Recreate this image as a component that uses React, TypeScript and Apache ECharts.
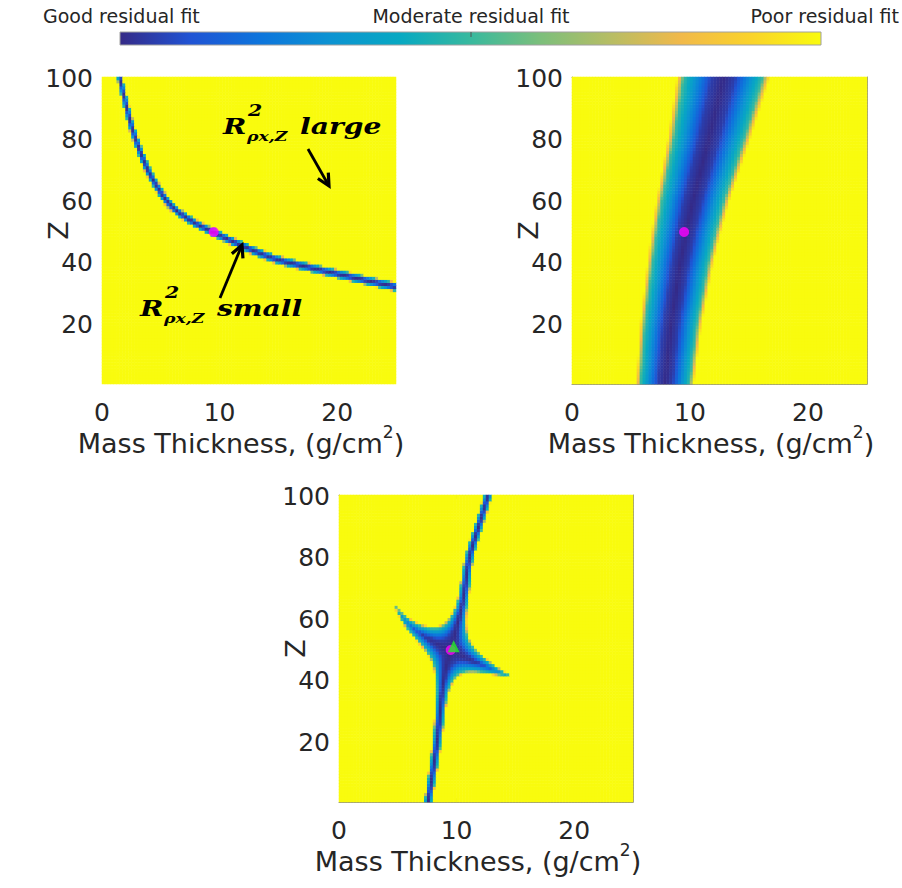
import React, { useEffect, useRef } from "react";
import * as echarts from "echarts";

// ---------------- data ----------------
const MASS_CELLS = Array.from({ length: 100 }, (_, i) => +(0.125 + 0.25 * i).toFixed(3));
const Z_CELLS = Array.from({ length: 100 }, (_, i) => i + 1);

const X_TICKS = [0, 10, 20];
const Z_TICKS = [20, 40, 60, 80, 100];

// valley of small residual, panel 1 (also the arms in panel 3)
const VALLEY1_X = [1.55, 2.5, 3.4, 4.3, 5.8, 7.7, 9.5, 12.0, 14.6, 16.8, 21.0, 25.0];
const VALLEY1_Z = [100, 85, 75, 67.5, 59, 53.5, 50, 45.5, 41.5, 39.3, 35.6, 32.2];
// half width of that valley (px) versus Z
const VALLEY1_HALF_Z = [32, 50, 100];
const VALLEY1_HALF = [4.8, 4.2, 3.0];

// valley of panel 2: centre and half width (mass thickness) versus Z
const VALLEY2_Z = [0.5, 20, 40, 50, 60, 80, 100.5];
const VALLEY2_X = [7.9, 8.4, 9.2, 9.7, 10.25, 11.6, 12.85];
const VALLEY2_HALF = [2.45, 2.6, 2.8, 2.95, 3.1, 3.5, 3.95];

// thin valley of panel 3
const VALLEY3_X = [7.6, 8.35, 8.9, 9.5, 10.5, 11.1, 11.87, 12.7];
const VALLEY3_Z = [0.5, 20, 40, 50, 65, 80, 90, 100.5];

// residual profile across a valley (normalised distance -> colour value)
const PROFILE_T = [0, 0.25, 0.55, 0.85, 0.95, 1];
const PROFILE_V = [0, 0.05, 0.27, 0.5, 0.85, 1];

const TRUE_POINT = [9.5, 50];
const FIT_POINT = [9.75, 51.2];

const COLORBAR_LABELS = ["Good residual fit", "Moderate residual fit", "Poor residual fit"];
const X_TITLE = "Mass Thickness, (g/cm{sup|2})";
const Y_TITLE = "Z";

const PARULA = [
  "#352a87", "#2053d4", "#0d75dc", "#0c93d2", "#07a9c2", "#38b99e",
  "#7cbf7b", "#b7bd64", "#f1b94a", "#fad32a", "#f9fb0e",
];

// ---------------- helpers ----------------
const SX = 294 / 25; // px per mass-thickness unit
const SZ = 307 / 100; // px per Z unit

function interp(xs: number[], ys: number[], x: number) {
  if (x <= xs[0]) return ys[0];
  for (let i = 1; i < xs.length; i++) {
    if (x <= xs[i]) {
      const f = (x - xs[i - 1]) / (xs[i] - xs[i - 1]);
      return ys[i - 1] + f * (ys[i] - ys[i - 1]);
    }
  }
  return ys[ys.length - 1];
}

function profile(t: number) {
  if (t >= 1) return 1;
  return interp(PROFILE_T, PROFILE_V, t);
}

// Catmull-Rom smoothing of a read polyline (in px space)
function smoothPx(xs: number[], zs: number[], n = 10) {
  const P = xs.map((x, i) => [x * SX, zs[i] * SZ]);
  const out: number[][] = [];
  for (let i = 0; i < P.length - 1; i++) {
    const p0 = P[Math.max(0, i - 1)], p1 = P[i], p2 = P[i + 1], p3 = P[Math.min(P.length - 1, i + 2)];
    for (let k = 0; k < n; k++) {
      const t = k / n, t2 = t * t, t3 = t2 * t;
      const f = (a: number, b: number, c: number, d: number) =>
        0.5 * (2 * b + (-a + c) * t + (2 * a - 5 * b + 4 * c - d) * t2 + (-a + 3 * b - 3 * c + d) * t3);
      out.push([f(p0[0], p1[0], p2[0], p3[0]), f(p0[1], p1[1], p2[1], p3[1])]);
    }
  }
  out.push(P[P.length - 1]);
  return out;
}

const PATH1 = smoothPx(VALLEY1_X, VALLEY1_Z);
const PATH3 = smoothPx(VALLEY3_X, VALLEY3_Z);

function pathDist(x: number, z: number, P: number[][]) {
  const px = x * SX, pz = z * SZ;
  let best = Infinity;
  for (let i = 1; i < P.length; i++) {
    const ax = P[i - 1][0], az = P[i - 1][1];
    const dx = P[i][0] - ax, dz = P[i][1] - az;
    const L = dx * dx + dz * dz || 1e-9;
    let t = ((px - ax) * dx + (pz - az) * dz) / L;
    t = Math.max(0, Math.min(1, t));
    const qx = ax + t * dx - px, qz = az + t * dz - pz;
    const d = Math.sqrt(qx * qx + qz * qz);
    if (d < best) best = d;
  }
  return best;
}

function field(fn: (x: number, z: number) => number) {
  const out: number[][] = [];
  for (let j = 0; j < Z_CELLS.length; j++) {
    for (let i = 0; i < MASS_CELLS.length; i++) {
      out.push([i, j, +fn(MASS_CELLS[i], Z_CELLS[j]).toFixed(4)]);
    }
  }
  return out;
}

const field1 = field((x, z) => profile(pathDist(x, z, PATH1) / interp(VALLEY1_HALF_Z, VALLEY1_HALF, z)));
const field2 = field((x, z) => {
  const c = interp(VALLEY2_Z, VALLEY2_X, z);
  const h = interp(VALLEY2_Z, VALLEY2_HALF, z);
  return profile(Math.abs(x - c) / h);
});
const field3 = field((x, z) => {
  const a = pathDist(x, z, PATH3) + 0.01; // px from the thin valley
  const b = pathDist(x, z, PATH1) + 0.01; // px from the panel-1 valley
  const qLine = a / (3 + 180 / (b + 15));
  const qArm = b / (4 + 250 / a) + Math.pow(a / 70, 2);
  return profile(Math.min(qLine, qArm));
});

// ---------------- layout ----------------
const GRIDS = [
  { left: 102, top: 77, width: 294, height: 307 },
  { left: 572, top: 77, width: 295, height: 307 },
  { left: 339, top: 495, width: 294, height: 307 },
];
const FONT = "DejaVu Sans";
const INK = "#262626";
const BORDER = "#8f8f8f";

function arrow(tail: number[], tip: number[]) {
  const dx = tip[0] - tail[0], dy = tip[1] - tail[1];
  const L = Math.sqrt(dx * dx + dy * dy);
  const ux = dx / L, uy = dy / L;
  const nx = -uy, ny = ux;
  const hl = 12, hw = 6;
  const p1 = [tip[0] - hl * ux + hw * nx, tip[1] - hl * uy + hw * ny];
  const p2 = [tip[0] - hl * ux - hw * nx, tip[1] - hl * uy - hw * ny];
  return [
    { type: "line", shape: { x1: tail[0], y1: tail[1], x2: tip[0] - 2 * ux, y2: tip[1] - 2 * uy }, style: { stroke: "#000", lineWidth: 2.8 }, z: 100 },
    { type: "polyline", shape: { points: [p1, tip, p2] }, style: { stroke: "#000", lineWidth: 3.2, fill: null, lineJoin: "miter" }, z: 100 },
  ];
}

function annotation(x: number, baseline: number, word: string) {
  const S = 1.28;
  const base = { fill: "#000", fontFamily: "DejaVu Serif", fontWeight: "bold", fontStyle: "italic", verticalAlign: "middle", align: "left" };
  return [
    { type: "text", x, y: baseline - 7.3, scaleX: S, z: 100, style: { ...base, text: "R", fontSize: 22 } },
    { type: "text", x: x + 25, y: baseline - 23, scaleX: S, z: 100, style: { ...base, text: "2", fontSize: 16 } },
    { type: "text", x: x + 24, y: baseline + 3, scaleX: S, z: 100, style: { ...base, text: "ρx,Z", fontSize: 13.5 } },
    { type: "text", x: x + 77, y: baseline - 7.3, scaleX: S, z: 100, style: { ...base, text: word, fontSize: 22 } },
  ];
}

function buildOption() {
  const xAxis: any[] = [];
  const yAxis: any[] = [];
  GRIDS.forEach((_, i) => {
    xAxis.push({ type: "category", gridIndex: i, data: MASS_CELLS, show: false, position: "top" });
    yAxis.push({ type: "category", gridIndex: i, data: Z_CELLS, show: false, position: "right" });
  });
  GRIDS.forEach((_, i) => {
    const boxed = i > 0;
    xAxis.push({
      type: "value", gridIndex: i, min: 0, max: 25, interval: 10, position: "bottom",
      axisLine: { show: boxed, onZero: false, lineStyle: { color: BORDER, width: 1 } },
      axisTick: { show: boxed, inside: true, length: 4, lineStyle: { color: BORDER } },
      axisLabel: { fontFamily: FONT, fontSize: 25, color: INK, margin: 16, formatter: (v: number) => (X_TICKS.includes(v) ? String(v) : "") },
      splitLine: { show: false },
    });
    yAxis.push({
      type: "value", gridIndex: i, min: 0.5, max: 100.5, splitNumber: 5, position: "left",
      axisLine: { show: boxed, onZero: false, lineStyle: { color: BORDER, width: 1 } },
      axisTick: { show: boxed, inside: true, length: 4, lineStyle: { color: BORDER } },
      axisLabel: { fontFamily: FONT, fontSize: 25, color: INK, margin: 9, formatter: (v: number) => (Z_TICKS.includes(v) ? String(v) : "") },
      splitLine: { show: false },
    });
  });
  [1, 2].forEach((i) => {
    xAxis.push({
      type: "value", gridIndex: i, min: 0, max: 25, interval: 10, position: "top",
      axisLine: { show: true, onZero: false, lineStyle: { color: BORDER, width: 1 } },
      axisTick: { show: true, inside: true, length: 4, lineStyle: { color: BORDER } },
      axisLabel: { show: false }, splitLine: { show: false },
    });
    yAxis.push({
      type: "value", gridIndex: i, min: 0.5, max: 100.5, splitNumber: 5, position: "right",
      axisLine: { show: true, onZero: false, lineStyle: { color: BORDER, width: 1 } },
      axisTick: { show: true, inside: true, length: 4, lineStyle: { color: BORDER } },
      axisLabel: { show: false }, splitLine: { show: false },
    });
  });

  const fields = [field1, field2, field3];
  const series: any[] = fields.map((data, i) => ({
    type: "heatmap", xAxisIndex: i, yAxisIndex: i, data, progressive: 0, silent: true,
    itemStyle: { borderWidth: 0 }, emphasis: { disabled: true },
  }));
  GRIDS.forEach((_, i) => {
    series.push({
      type: "scatter", xAxisIndex: 3 + i, yAxisIndex: 3 + i, data: [TRUE_POINT], symbol: "circle",
      symbolSize: 10, itemStyle: { color: "#ff00ff" }, z: 5, silent: true,
    });
  });
  series.push({
    type: "scatter", xAxisIndex: 5, yAxisIndex: 5, data: [FIT_POINT], symbol: "triangle",
    symbolSize: 12, itemStyle: { color: "#22ee22" }, z: 6, silent: true,
  });

  const stops = PARULA.map((c, k) => ({ offset: k / (PARULA.length - 1), color: c }));
  const graphics: any[] = [
    {
      type: "rect", shape: { x: 120, y: 32, width: 701, height: 13 },
      style: { fill: new echarts.graphic.LinearGradient(0, 0, 1, 0, stops), stroke: "#a0a0a0", lineWidth: 1 },
    },
    { type: "line", shape: { x1: 471, y1: 32, x2: 471, y2: 37 }, style: { stroke: "#555", lineWidth: 1 } },
    { type: "text", x: 43, y: 16, style: { text: COLORBAR_LABELS[0], fontFamily: FONT, fontSize: 19, fill: INK, align: "left", verticalAlign: "middle" } },
    { type: "text", x: 471, y: 16, style: { text: COLORBAR_LABELS[1], fontFamily: FONT, fontSize: 19, fill: INK, align: "center", verticalAlign: "middle" } },
    { type: "text", x: 899, y: 16, style: { text: COLORBAR_LABELS[2], fontFamily: FONT, fontSize: 19, fill: INK, align: "right", verticalAlign: "middle" } },
  ];
  GRIDS.forEach((g) => {
    graphics.push({
      type: "text", x: g.left + 139, y: g.top + g.height + 59,
      style: {
        text: X_TITLE, fontFamily: FONT, fontSize: 27, lineHeight: 40, fill: INK, align: "center", verticalAlign: "middle",
        rich: { sup: { fontFamily: FONT, fontSize: 17, lineHeight: 17, verticalAlign: "top", fill: INK } },
      },
    });
    graphics.push({
      type: "text", x: g.left - 44, y: g.top + g.height / 2, rotation: Math.PI / 2,
      style: { text: Y_TITLE, fontFamily: FONT, fontSize: 27, fill: INK, align: "center", verticalAlign: "middle" },
    });
  });
  graphics.push(...annotation(223, 133.7, "large"));
  graphics.push(...annotation(140, 315.5, "small"));
  graphics.push(...arrow([308, 149], [329, 186]));
  graphics.push(...arrow([220, 298], [242, 245]));

  return {
    animation: false,
    backgroundColor: "#ffffff",
    grid: GRIDS.map((g) => ({ ...g, show: false })),
    xAxis,
    yAxis,
    visualMap: { type: "continuous", show: false, min: 0, max: 1, dimension: 2, seriesIndex: [0, 1, 2], inRange: { color: PARULA } },
    series,
    graphic: { elements: graphics },
  };
}

export default function App() {
  const ref = useRef<HTMLDivElement>(null);
  useEffect(() => {
    const chart = echarts.init(ref.current!, null, { renderer: "svg" });
    chart.setOption(buildOption() as any);
    return () => chart.dispose();
  }, []);
  return <div ref={ref} style={{ position: "absolute", left: 0, top: 0, width: 902, height: 888, background: "#fff" }} />;
}
